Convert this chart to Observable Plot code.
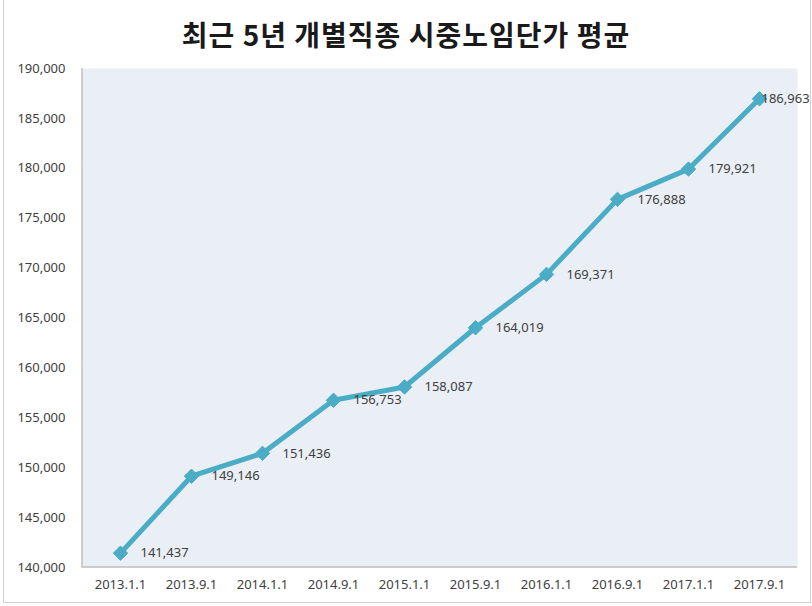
<!DOCTYPE html>
<html>
<head>
<meta charset="utf-8">
<script src="https://cdn.jsdelivr.net/npm/d3@7"></script>
<script src="https://cdn.jsdelivr.net/npm/@observablehq/plot@0.6"></script>
<style>
  html, body { margin: 0; padding: 0; background: #fff; }
  #wrap { position: relative; width: 812px; height: 606px; overflow: hidden; }
  #frame { position: absolute; left: 3px; top: -2px; width: 808px; height: 605px;
           border-left: 1px solid #d0d0d0; border-right: 1px solid #d0d0d0; border-bottom: 1px solid #d0d0d0; box-sizing: border-box; }
  #title { position: absolute; left: 0; top: 14px; width: 812px; text-align: center;
           font-family: "Noto Sans CJK KR", sans-serif; font-weight: 700; font-size: 28px; letter-spacing: 1px; color: #1a1a1a; line-height: 40px; }
  #chart { position: absolute; left: 0; top: 60px; }
  #chart svg { overflow: visible; }
</style>
</head>
<body>
<div id="wrap">
  <div id="frame"></div>
  <div id="title">최근 5년 개별직종 시중노임단가 평균</div>
  <div id="chart"></div>
</div>
<script>
const dates = ["2013.1.1","2013.9.1","2014.1.1","2014.9.1","2015.1.1","2015.9.1","2016.1.1","2016.9.1","2017.1.1","2017.9.1"];
const values = [141437,149146,151436,156753,158087,164019,169371,176888,179921,186963];
const yTicks = [140000,145000,150000,155000,160000,165000,170000,175000,180000,185000,190000];

const data = dates.map((d, i) => ({date: d, value: values[i], i}));
const fmt = d3.format(",");
const last = dates.length - 1;

const borderMark = (index, scales, values, dims) => {
  const x0 = dims.marginLeft, x1 = dims.width - dims.marginRight;
  const y0 = dims.marginTop, y1 = dims.height - dims.marginBottom;
  const p = d3.create("svg:path")
    .attr("d", `M${x0},${y0}V${y1}H${x1}`)
    .attr("fill", "none")
    .attr("stroke", "#bfbfbf")
    .attr("stroke-width", 1.5);
  return p.node();
};

const chart = Plot.plot({
  width: 812,
  height: 546,
  marginLeft: 82,
  marginRight: 15,
  marginTop: 8,
  marginBottom: 39,
  style: {fontFamily: "'Noto Sans', sans-serif", fontSize: "13px", color: "#404040", background: "transparent"},
  x: {type: "point", domain: dates, padding: 0.5, label: null},
  y: {domain: [140000, 190000], label: null},
  marks: [
    Plot.frame({fill: "#e9eff5", stroke: null}),
    borderMark,
    Plot.axisY({ticks: yTicks, tickSize: 0, tickPadding: 17, tickFormat: fmt, label: null, fontSize: 13}),
    Plot.axisX({tickSize: 0, tickPadding: 12, label: null, fontSize: 13}),
    Plot.line(data, {x: "date", y: "value", stroke: "#4bacc6", strokeWidth: 5, strokeLinejoin: "round"}),
    Plot.dot(data, {x: "date", y: "value", symbol: "diamond2", r: 6.5, fill: "#4bacc6", stroke: "#4bacc6", strokeWidth: 1}),
    Plot.text(data.filter(d => d.i < last), {x: "date", y: "value", text: d => fmt(d.value), dx: 20, textAnchor: "start", fill: "#404040", fontSize: 13}),
    Plot.text(data.filter(d => d.i === last), {x: "date", y: "value", text: d => fmt(d.value), dx: 2, textAnchor: "start", fill: "#404040", fontSize: 13})
  ]
});
document.getElementById("chart").appendChild(chart);
</script>
</body>
</html>
